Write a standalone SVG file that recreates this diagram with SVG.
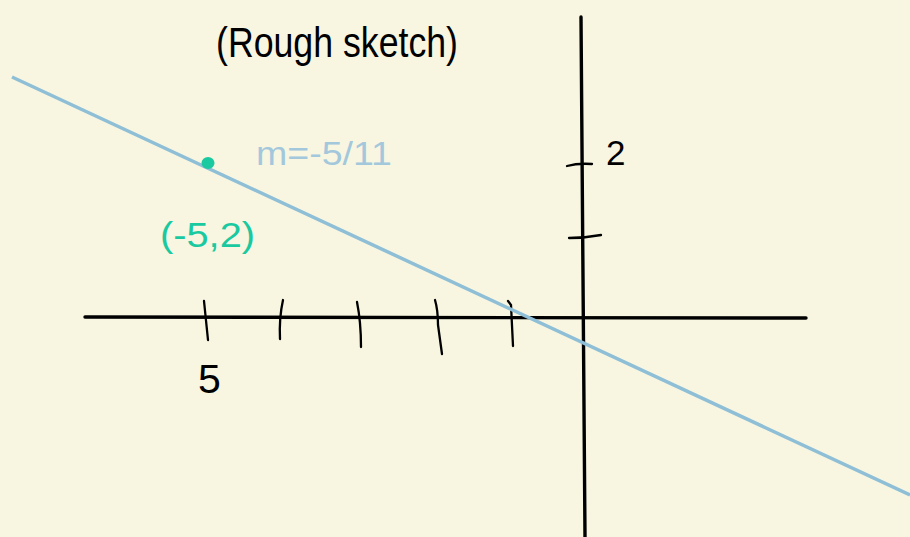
<svg xmlns="http://www.w3.org/2000/svg" width="910" height="537" viewBox="0 0 910 537">
<style>
.ax{stroke:#000;stroke-width:3.4;fill:none;stroke-linecap:round}
.tk{stroke:#000;stroke-width:2.3;fill:none;stroke-linecap:round}
.t{font-family:"Liberation Sans","DejaVu Sans",sans-serif;fill:#000}
</style>
<rect x="0" y="0" width="910" height="537" fill="#f8f6e1"/>
<g id="axes">
<path class="ax" d="M85,317 L806,318"/>
<path class="ax" d="M581,17 L585,537"/>
</g>
<g id="ticks">
<path class="tk" d="M204,301 L208,340"/>
<path class="tk" d="M283,300 Q279,318 280,339"/>
<path class="tk" d="M357,302 Q361,322 361,347"/>
<path class="tk" d="M435,300 Q438,310 438,325 L442,354"/>
<path class="tk" d="M508,301 L511,305 L513,346"/>
<path class="tk" d="M567,166 Q578,163 592,164"/>
<path class="tk" d="M569,238 Q585,238 601,235"/>
</g>
<g id="line">
<path d="M12,77 L910,495" stroke="#8fbfd6" stroke-width="3.5" fill="none"/>
</g>
<g id="point">
<ellipse cx="208" cy="163" rx="6.5" ry="6" fill="#19c9a0"/>
</g>
<g id="labels">
<text class="t" x="216" y="57" font-size="42" textLength="242" lengthAdjust="spacingAndGlyphs">(Rough sketch)</text>
<text class="t" x="606" y="165" font-size="35">2</text>
<text class="t" x="198" y="393" font-size="41">5</text>
<text class="t" x="256" y="165" font-size="34" style="fill:#a3c8dc" textLength="136" lengthAdjust="spacingAndGlyphs">m=-5/11</text>
<text class="t" x="160" y="247" font-size="35" style="fill:#19c9a0" textLength="95" lengthAdjust="spacingAndGlyphs">(-5,2)</text>
</g>
</svg>
